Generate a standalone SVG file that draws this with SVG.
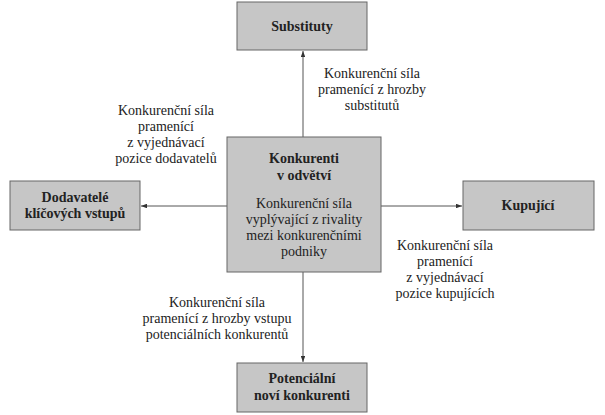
<svg xmlns="http://www.w3.org/2000/svg" width="605" height="415" viewBox="0 0 605 415">
<style>
.box{fill:#c6c6c6;stroke:#666;stroke-width:1}
text{font-family:"Liberation Serif","Times New Roman","DejaVu Serif",serif;font-size:14px;fill:#222;text-anchor:middle}
.b{font-weight:bold}
.c{stroke:#555;stroke-width:1;fill:none}
</style>
<defs><marker id="a" viewBox="0 0 8 6" refX="8" refY="3" markerWidth="6" markerHeight="4.5" orient="auto"><path d="M0,0L8,3L0,6z" fill="#333"/></marker></defs>
<rect width="605" height="415" fill="#fff"/>
<g id="connectors">
<line class="c" x1="303" y1="137" x2="303" y2="51" marker-end="url(#a)"/>
<line class="c" x1="227" y1="206" x2="141" y2="206" marker-end="url(#a)"/>
<line class="c" x1="381" y1="206" x2="462" y2="206" marker-end="url(#a)"/>
<line class="c" x1="303" y1="272" x2="303" y2="362" marker-end="url(#a)"/>
</g>
<g id="substituty"><rect class="box" x="237" y="2" width="130" height="48"/><text class="b" x="302" y="31">Substituty</text></g>
<g id="konkurenti"><rect class="box" x="227" y="137" width="154" height="135"/>
<text class="b" x="304" y="163">Konkurenti</text><text class="b" x="304" y="180">v odvětví</text>
<text x="304" y="208">Konkurenční síla</text><text x="304" y="224">vyplývající z rivality</text><text x="304" y="240">mezi konkurenčními</text><text x="304" y="256">podniky</text></g>
<g id="dodavatele"><rect class="box" x="10" y="181" width="130" height="49"/><text class="b" x="75" y="202">Dodavatelé</text><text class="b" x="75" y="218">klíčových vstupů</text></g>
<g id="kupujici"><rect class="box" x="463" y="181" width="131" height="49"/><text class="b" x="528" y="210">Kupující</text></g>
<g id="potencialni"><rect class="box" x="237" y="363" width="130" height="49"/><text class="b" x="302" y="383">Potenciální</text><text class="b" x="302" y="400">noví konkurenti</text></g>
<g id="labels">
<text x="372" y="78">Konkurenční síla</text><text x="372" y="94">pramenící z hrozby</text><text x="372" y="110">substitutů</text>
<text x="166" y="115">Konkurenční síla</text><text x="166" y="131">pramenící</text><text x="166" y="147">z vyjednávací</text><text x="166" y="163">pozice dodavatelů</text>
<text x="445" y="250">Konkurenční síla</text><text x="445" y="266">pramenící</text><text x="445" y="282">z vyjednávací</text><text x="445" y="298">pozice kupujících</text>
<text x="217" y="307">Konkurenční síla</text><text x="217" y="323">pramenící z hrozby vstupu</text><text x="217" y="339">potenciálních konkurentů</text>
</g>
</svg>
